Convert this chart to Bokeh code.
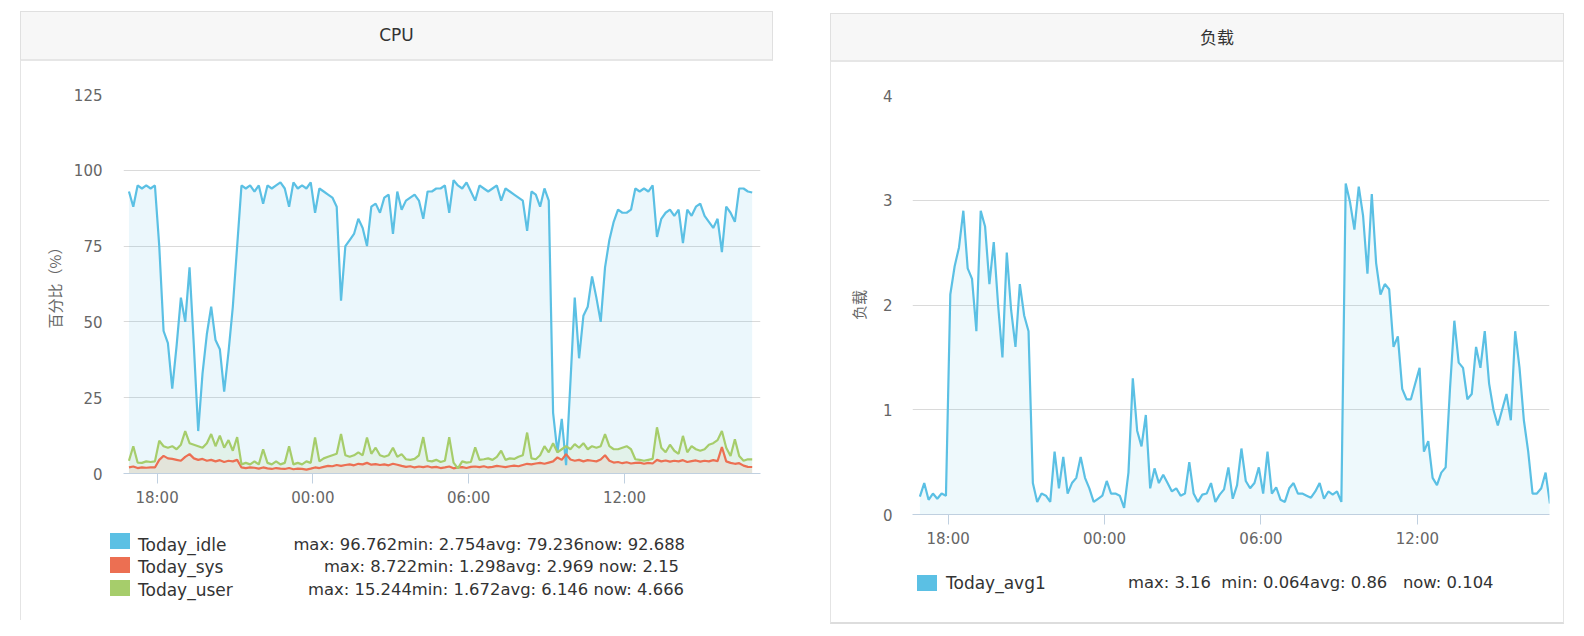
import pandas as pd
from bokeh.plotting import figure
from bokeh.models import Div, Spacer, FixedTicker, DatetimeTickFormatter, Range1d, ColumnDataSource
from bokeh.layouts import row, column
from bokeh.embed import file_html
from bokeh.resources import INLINE

# ---------------- data ----------------
cpu_start = "2017-06-01 16:55"
cpu_step = "10min"
cpu_idle = [
    93, 88, 95, 94, 95, 94, 95, 75, 47, 43,
    28, 42, 58, 50, 68, 42, 14, 33, 46, 55,
    44, 41, 27, 40, 55, 75, 95, 94, 95, 93,
    95, 89, 95, 94, 95, 96, 94, 88, 96, 94,
    95, 94, 96, 86, 94, 93, 92, 91, 88, 57,
    75, 77, 79, 84, 81, 75, 88, 89, 86, 91,
    92, 79, 93, 87, 90, 91, 92, 90, 84, 93,
    93, 94, 94, 95, 86, 96.762, 95, 94, 96, 93,
    90, 95, 94, 93, 94, 95, 90, 94, 93, 92,
    91, 90, 80, 93, 92, 88, 94, 90, 20, 7,
    18, 2.754, 30, 58, 38, 52, 55, 65, 58, 50,
    68, 77, 83, 87, 86, 86, 87, 94, 93, 94,
    93, 95, 78, 84, 86, 87, 85, 87, 76, 87,
    85, 88, 89, 85, 83, 81, 84, 73, 88, 86,
    83, 94, 94, 93, 92.688,
]
cpu_sys = [
    2, 2.3, 1.8, 2, 1.9, 2, 2, 4.5, 5.8, 5,
    4.8, 4.5, 4.2, 5.5, 6.4, 5, 4.5, 4.8, 4.2, 4.5,
    4, 4.4, 3.8, 4.2, 4, 4.5, 2, 1.8, 2, 1.9,
    1.6, 2, 1.7, 1.5, 1.8, 1.6, 1.5, 1.8, 1.4, 1.6,
    1.5, 1.298, 1.6, 2, 1.8, 2.2, 2.5, 2.4, 2.8, 2.5,
    2.8, 3, 2.7, 3.2, 3, 3.5, 2.9, 3.1, 2.8, 3,
    2.7, 3.2, 2.9, 2.5, 2.2, 2.4, 2, 2.3, 2.1, 2.4,
    2, 2.2, 1.8, 2, 2.3, 1.7, 2, 2.1, 1.8, 2.2,
    2.3, 2.1, 2.4, 2, 2.2, 2.5, 2.3, 2.1, 2.4, 2.6,
    2.4, 2.8, 3.2, 3, 3.3, 3.5, 3.2, 3.6, 4, 5.3,
    4.5, 6.4, 4.6, 4.2, 4.5, 4, 4.4, 4.2, 4, 4.6,
    6, 4.2, 3.6, 3.8, 3.4, 3.7, 3.3, 3.5, 3.6, 3.2,
    3.5, 3.3, 4.5, 4, 4.3, 3.9, 4.2, 4, 4.4, 3.8,
    4.1, 4.3, 3.9, 4.2, 4, 4.4, 4.1, 8.722, 4, 3.5,
    3.2, 3.4, 2.6, 2.2, 2.15,
]
cpu_user = [
    4.2, 9, 3.6, 3.5, 4, 3.8, 4, 10.8, 9, 8.5,
    9, 8, 9.5, 14, 10, 9.5, 9, 8.5, 10, 13,
    9, 12.5, 8.5, 11, 7.5, 12, 3, 3.5, 3, 4,
    3, 8, 3.5, 3, 4, 3, 3.5, 9, 3, 3.5,
    3, 4, 3.5, 11.9, 4, 5, 5.5, 6, 6.5, 13,
    6, 5.5, 6, 7, 6, 11.9, 6.5, 8.5, 6, 5.5,
    6, 8.5, 5.5, 6.4, 4.7, 4.5, 4.8, 6, 12, 4.2,
    4, 4.5, 3.8, 4.2, 12, 3.6, 1.672, 4, 3.6, 3.8,
    8.6, 4.5, 4.7, 5, 4.5, 5.5, 7.5, 4.5, 5, 4.8,
    5.5, 6, 13.5, 5, 4.7, 6, 9, 7, 10, 7,
    8, 9, 8, 9.7, 8.5, 10, 8, 9, 8.5, 9,
    13, 9, 8, 8, 8.5, 9, 8, 4.7, 4.5, 4.2,
    4.5, 4.8, 15.244, 8.5, 7, 9.5, 7.5, 6.5, 12.4, 7,
    9, 8, 7.5, 8, 9.5, 10, 11, 14, 8.5, 5.8,
    11.3, 5.8, 4.2, 4.7, 4.666,
]
load_start = "2017-06-01 16:55"
load_step = "10min"
load_avg1 = [
    0.17, 0.30, 0.14, 0.2, 0.15, 0.2, 0.18, 2.1, 2.37, 2.55,
    2.9, 2.35, 2.25, 1.75, 2.9, 2.75, 2.2, 2.6, 2.0, 1.5,
    2.5, 1.95, 1.6, 2.2, 1.9, 1.75, 0.3, 0.12, 0.2, 0.18,
    0.12, 0.6, 0.25, 0.55, 0.2, 0.3, 0.35, 0.55, 0.35, 0.25,
    0.12, 0.15, 0.18, 0.32, 0.2, 0.2, 0.18, 0.064, 0.4, 1.3,
    0.8, 0.65, 0.95, 0.25, 0.44, 0.3, 0.38, 0.3, 0.22, 0.25,
    0.18, 0.2, 0.5, 0.2, 0.12, 0.19, 0.2, 0.3, 0.12, 0.19,
    0.24, 0.45, 0.15, 0.28, 0.63, 0.32, 0.25, 0.3, 0.45, 0.2,
    0.6, 0.2, 0.26, 0.14, 0.12, 0.25, 0.3, 0.2, 0.2, 0.18,
    0.16, 0.22, 0.3, 0.15, 0.22, 0.19, 0.22, 0.12, 3.16, 2.98,
    2.72, 3.13, 2.85, 2.3, 3.06, 2.4, 2.1, 2.2, 2.15, 1.6,
    1.7, 1.2, 1.1, 1.1, 1.25, 1.4, 0.6, 0.7, 0.35, 0.28,
    0.4, 0.45, 1.2, 1.85, 1.45, 1.4, 1.1, 1.15, 1.6, 1.4,
    1.75, 1.25, 1.0, 0.85, 1.0, 1.15, 0.9, 1.75, 1.4, 0.9,
    0.6, 0.2, 0.2, 0.25, 0.4, 0.104,
]

cpu_title = "CPU"
cpu_ylabel = "百分比（%）"
cpu_yticks = [0, 25, 50, 75, 100, 125]
cpu_names = ["Today_idle", "Today_sys", "Today_user"]
cpu_stats = [
    "max: 96.762min: 2.754avg: 79.236now: 92.688",
    "max: 8.722min: 1.298avg: 2.969 now: 2.15",
    "max: 15.244min: 1.672avg: 6.146 now: 4.666",
]
load_title = "负载"
load_ylabel = "负载"
load_yticks = [0, 1, 2, 3, 4]
load_names = ["Today_avg1"]
load_stats = ["max: 3.16  min: 0.064avg: 0.86   now: 0.104"]
xtick_times = ["2017-06-01 18:00", "2017-06-02 00:00", "2017-06-02 06:00", "2017-06-02 12:00"]

# ---------------- style ----------------
C_IDLE = "#5bc0e4"
C_SYS = "#ec6f52"
C_USER = "#a6cd6b"
GRID = "#dadada"
AXIS = "#c0d0e0"
LABEL = "#666666"
TEXT = "#333333"
BORDER = "#e4e4e4"
FONT = "DejaVu Sans"
CJK = "Noto Sans CJK SC"


def ms(ts):
    return pd.Timestamp(ts).value / 1e6


def style_fig(p, yticks, ylabel, ystandoff, lstandoff):
    p.outline_line_color = None
    p.background_fill_color = "white"
    p.border_fill_color = "white"
    p.xgrid.visible = False
    p.ygrid.ticker = FixedTicker(ticks=yticks)
    p.ygrid.grid_line_color = GRID
    p.ygrid.grid_line_width = 1
    ya = p.yaxis[0]
    ya.ticker = FixedTicker(ticks=yticks)
    ya.axis_line_color = None
    ya.major_tick_line_color = None
    ya.minor_tick_line_color = None
    ya.major_tick_out = 0
    ya.major_tick_in = 0
    ya.major_label_standoff = ystandoff
    ya.major_label_text_font = FONT
    ya.major_label_text_font_size = "15px"
    ya.major_label_text_color = LABEL
    ya.axis_label = ylabel
    ya.axis_label_text_font = CJK
    ya.axis_label_text_font_size = "15px"
    ya.axis_label_text_font_style = "normal"
    ya.axis_label_text_color = LABEL
    ya.axis_label_standoff = lstandoff
    xa = p.xaxis[0]
    xa.ticker = FixedTicker(ticks=[ms(t) for t in xtick_times])
    xa.formatter = DatetimeTickFormatter(hours="%H:%M", hourmin="%H:%M", days="%H:%M",
                                         minutes="%H:%M", minsec="%H:%M")
    xa.axis_line_color = AXIS
    xa.major_tick_line_color = AXIS
    xa.minor_tick_line_color = None
    xa.major_tick_out = 10
    xa.major_tick_in = 0
    xa.major_label_standoff = 5
    xa.major_label_text_font = FONT
    xa.major_label_text_font_size = "15px"
    xa.major_label_text_color = LABEL


def header(text, width, height, font, pad_left=0):
    return Div(text=text, width=width, height=height, margin=0, styles={
        "background-color": "#f7f7f7", "border": "1px solid #e0e0e0",
        "border-bottom": "2px solid #e6e6e6", "box-sizing": "border-box",
        "text-align": "center", "line-height": f"{height - 3}px",
        "padding-left": f"{pad_left}px",
        "font-family": font, "font-size": "17px", "color": TEXT})


def legend_div(width, height, names, colors, stats, sq_left, sq_tops, name_left, text_tops,
               stat_pos, borders):
    parts = [f'<div style="position:relative;width:{width}px;height:{height}px;'
             f'font-family:\'{FONT}\';color:{TEXT};">']
    for i, nm in enumerate(names):
        parts.append(f'<div style="position:absolute;left:{sq_left}px;top:{sq_tops[i]}px;'
                     f'width:20px;height:16px;background:{colors[i]}"></div>')
        parts.append(f'<div style="position:absolute;left:{name_left}px;top:{text_tops[i]}px;'
                     f'font-size:17px;line-height:20px;white-space:pre">{nm}</div>')
        parts.append(f'<div style="position:absolute;{stat_pos[i]};top:{text_tops[i]}px;'
                     f'font-size:16.4px;line-height:20px;white-space:pre">{stats[i]}</div>')
    parts.append('</div>')
    st = {"box-sizing": "border-box"}
    st.update(borders)
    return Div(text="".join(parts), width=width, height=height, margin=0, styles=st)


# ---------------- CPU panel ----------------
t_cpu = pd.date_range(cpu_start, periods=len(cpu_idle), freq=cpu_step)
src_cpu = ColumnDataSource(dict(t=t_cpu, idle=cpu_idle, sys=cpu_sys, user=cpu_user))

p1 = figure(width=753, height=459, x_axis_type="datetime", output_backend="svg",
            toolbar_location=None,
            x_range=Range1d(ms("2017-06-01 16:42:24"), ms("2017-06-02 17:14:12")),
            y_range=Range1d(0, 125),
            min_border_left=102, min_border_right=14, min_border_top=33, min_border_bottom=47)
style_fig(p1, cpu_yticks, cpu_ylabel, 21, 6)
p1.styles = {"border-left": f"1px solid {BORDER}", "box-sizing": "border-box"}
p1.varea(x="t", y1=0, y2="idle", source=src_cpu, fill_color=C_IDLE, fill_alpha=0.12)
p1.varea(x="t", y1=0, y2="user", source=src_cpu, fill_color=C_USER, fill_alpha=0.12)
p1.varea(x="t", y1=0, y2="sys", source=src_cpu, fill_color=C_SYS, fill_alpha=0.1)
p1.line(x="t", y="idle", source=src_cpu, line_color=C_IDLE, line_width=2.2)
p1.line(x="t", y="sys", source=src_cpu, line_color=C_SYS, line_width=2.2)
p1.line(x="t", y="user", source=src_cpu, line_color=C_USER, line_width=2.2)

h1 = header(cpu_title, 753, 50, FONT)
l1 = legend_div(753, 100, cpu_names, [C_IDLE, C_SYS, C_USER], cpu_stats, 89, [13, 37, 60],
                117, [15, 37, 60], ["right:89px", "right:95px", "right:90px"],
                {"border-left": f"1px solid {BORDER}"})
left_panel = column(Spacer(height=11, width=753, margin=0), h1, p1, l1, margin=0)

# ---------------- Load panel ----------------
t_load = pd.date_range(load_start, periods=len(load_avg1), freq=load_step)
src_load = ColumnDataSource(dict(t=t_load, avg1=load_avg1))

p2 = figure(width=734, height=499, x_axis_type="datetime", output_backend="svg",
            toolbar_location=None,
            x_range=Range1d(ms("2017-06-01 16:38:00"), ms("2017-06-02 17:04:00")),
            y_range=Range1d(0, 4),
            min_border_left=81, min_border_right=16, min_border_top=33, min_border_bottom=47)
style_fig(p2, load_yticks, load_ylabel, 20, 11)
p2.styles = {"border-left": f"1px solid {BORDER}", "border-right": f"1px solid {BORDER}",
             "box-sizing": "border-box"}
p2.varea(x="t", y1=0, y2="avg1", source=src_load, fill_color=C_IDLE, fill_alpha=0.1)
p2.line(x="t", y="avg1", source=src_load, line_color=C_IDLE, line_width=2.2)

h2 = header(load_title, 734, 49, CJK, pad_left=40)
l2 = legend_div(734, 63, load_names, [C_IDLE], load_stats, 86, [14], 115, [12], ["left:297px"],
                {"border-left": f"1px solid {BORDER}", "border-right": f"1px solid {BORDER}",
                 "border-bottom": "2px solid #dddddd"})
right_panel = column(Spacer(height=13, width=734, margin=0), h2, p2, l2, margin=0)

layout = row(Spacer(width=20, margin=0), left_panel, Spacer(width=57, margin=0), right_panel,
             margin=0)

open("out.html", "w").write(file_html(layout, INLINE))
